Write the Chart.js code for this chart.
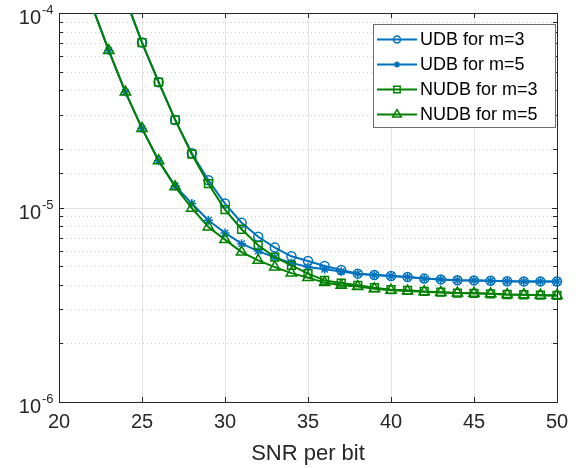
<!DOCTYPE html>
<html>
<head>
<meta charset="utf-8">
<script src="https://cdn.jsdelivr.net/npm/chart.js@4.4.1/dist/chart.umd.min.js"></script>
<style>
    html, body { margin: 0; padding: 0; background: #fff; }
</style>
</head>
<body>
<canvas id="ber-chart" width="582" height="468"></canvas>
<script>
// SNR per bit (x) for each group of curves
const snrM3 = [24, 25, 26, 27, 28, 29, 30, 31, 32, 33, 34, 35, 36, 37, 38, 39, 40, 41, 42, 43, 44, 45, 46, 47, 48, 49, 50];
const snrM5 = [21, 22, 23, 24, 25, 26, 27, 28, 29, 30, 31, 32, 33, 34, 35, 36, 37, 38, 39, 40, 41, 42, 43, 44, 45, 46, 47, 48, 49, 50];

// Error rates
const berUdbM3 = [1.19e-4, 7.05e-5, 4.41e-5, 2.82e-5, 1.90e-5, 1.38e-5, 1.048e-5, 8.35e-6, 7.07e-6, 6.22e-6,
    5.61e-6, 5.31e-6, 5.00e-6, 4.77e-6, 4.57e-6, 4.50e-6, 4.44e-6, 4.39e-6, 4.31e-6, 4.27e-6,
    4.23e-6, 4.22e-6, 4.20e-6, 4.18e-6, 4.17e-6, 4.17e-6, 4.16e-6];
const berUdbM5 = [1.92e-4, 1.08e-4, 6.41e-5, 3.92e-5, 2.55e-5, 1.74e-5, 1.29e-5, 1.048e-5, 8.60e-6, 7.40e-6,
    6.52e-6, 5.97e-6, 5.54e-6, 5.19e-6, 4.95e-6, 4.81e-6, 4.69e-6, 4.57e-6, 4.50e-6, 4.44e-6,
    4.39e-6, 4.31e-6, 4.27e-6, 4.23e-6, 4.22e-6, 4.20e-6, 4.18e-6, 4.17e-6, 4.17e-6, 4.16e-6];
const berNudbM3 = [1.19e-4, 7.05e-5, 4.41e-5, 2.82e-5, 1.88e-5, 1.326e-5, 9.76e-6, 7.73e-6, 6.39e-6, 5.56e-6,
    5.04e-6, 4.57e-6, 4.22e-6, 4.09e-6, 3.98e-6, 3.87e-6, 3.78e-6, 3.75e-6, 3.70e-6, 3.67e-6,
    3.63e-6, 3.62e-6, 3.60e-6, 3.57e-6, 3.56e-6, 3.54e-6, 3.53e-6];
const berNudbM5 = [1.92e-4, 1.08e-4, 6.41e-5, 3.92e-5, 2.55e-5, 1.74e-5, 1.277e-5, 9.92e-6, 7.94e-6, 6.84e-6,
    5.90e-6, 5.35e-6, 4.94e-6, 4.60e-6, 4.36e-6, 4.11e-6, 3.98e-6, 3.92e-6, 3.82e-6, 3.75e-6,
    3.72e-6, 3.69e-6, 3.66e-6, 3.63e-6, 3.62e-6, 3.60e-6, 3.57e-6, 3.56e-6, 3.54e-6, 3.53e-6];

const seriesLabels = ['UDB for m=3', 'UDB for m=5', 'NUDB for m=3', 'NUDB for m=5'];

// Axis ticks
const xTicks = [20, 25, 30, 35, 40, 45, 50];
const yDecades = [1e-6, 1e-5, 1e-4];
const yDecadeExp = ['-6', '-5', '-4'];

const FONT = '"Liberation Sans", Arial, Helvetica, sans-serif';
const AXIS_COLOR = '#262626';
const BLUE = '#0072BD';
const GREEN = '#008000';

Chart.defaults.font.family = FONT;
Chart.defaults.color = AXIS_COLOR;

function toPoints(xs, ys) {
    return xs.map((x, i) => ({ x: x, y: ys[i] }));
}

function isDecade(v) {
    return yDecades.some(d => Math.abs(v / d - 1) < 1e-6);
}

function hLine(ctx, x1, x2, y) {
    ctx.beginPath();
    ctx.moveTo(x1, y);
    ctx.lineTo(x2, y);
    ctx.stroke();
}

function vLine(ctx, x, y1, y2) {
    ctx.beginPath();
    ctx.moveTo(x, y1);
    ctx.lineTo(x, y2);
    ctx.stroke();
}

// Grid, box, inward ticks and y labels the way MATLAB draws them
const axesPlugin = {
    id: 'matlabAxes',
    beforeDatasetsDraw(chart) {
        const { ctx, chartArea: a, scales: { x, y } } = chart;
        ctx.save();
        ctx.lineWidth = 1;

        // minor dotted grid
        ctx.strokeStyle = '#cfcfcf';
        ctx.setLineDash([1, 3]);
        y.ticks.forEach(t => {
            if (isDecade(t.value)) return;
            const py = Math.round(y.getPixelForValue(t.value)) + 0.5;
            hLine(ctx, a.left, a.right, py);
        });
        ctx.setLineDash([]);

        // major solid grid
        ctx.strokeStyle = '#e3e3e3';
        xTicks.forEach(v => {
            const px = Math.round(x.getPixelForValue(v)) + 0.5;
            vLine(ctx, px, a.top, a.bottom);
        });
        yDecades.forEach(v => {
            const py = Math.round(y.getPixelForValue(v)) + 0.5;
            hLine(ctx, a.left, a.right, py);
        });

        // box
        ctx.strokeStyle = AXIS_COLOR;
        ctx.strokeRect(Math.round(a.left) + 0.5, Math.round(a.top) + 0.5,
            Math.round(a.right - a.left), Math.round(a.bottom - a.top));

        // inward ticks
        xTicks.forEach(v => {
            const px = Math.round(x.getPixelForValue(v)) + 0.5;
            vLine(ctx, px, a.bottom, a.bottom - 5);
            vLine(ctx, px, a.top, a.top + 5);
        });
        y.ticks.forEach(t => {
            const py = Math.round(y.getPixelForValue(t.value)) + 0.5;
            const len = isDecade(t.value) ? 5 : 4;
            hLine(ctx, a.left, a.left + len, py);
            hLine(ctx, a.right, a.right - len, py);
        });

        // y labels: 10 with a superscript exponent
        ctx.fillStyle = AXIS_COLOR;
        ctx.textBaseline = 'alphabetic';
        yDecades.forEach((v, i) => {
            const py = y.getPixelForValue(v);
            ctx.font = '20px ' + FONT;
            ctx.textAlign = 'right';
            ctx.fillText('10', a.left - 18, py + 11);
            ctx.font = '13px ' + FONT;
            ctx.textAlign = 'left';
            ctx.fillText(yDecadeExp[i], a.left - 17, py + 1);
        });
        ctx.restore();
    },
    afterDraw(chart) {
        // legend box in the upper right corner
        const { ctx } = chart;
        const box = { left: 373.5, top: 24.5, right: 555.5, bottom: 127.5 };
        ctx.save();
        ctx.fillStyle = '#ffffff';
        ctx.fillRect(box.left, box.top, box.right - box.left, box.bottom - box.top);
        ctx.strokeStyle = '#6e6e6e';
        ctx.lineWidth = 1;
        ctx.strokeRect(box.left, box.top, box.right - box.left, box.bottom - box.top);

        const legendRadius = [3.5, 3, 4.5, 5];
        chart.data.datasets.forEach((ds, i) => {
            const ry = box.top + 15 + i * 25;
            ctx.strokeStyle = ds.borderColor;
            ctx.lineWidth = 2;
            hLine(ctx, 377, 417, ry);
            ctx.fillStyle = 'rgba(0,0,0,0)';
            ctx.lineWidth = 1.5;
            Chart.helpers.drawPoint(ctx, {
                pointStyle: ds.pointStyle,
                radius: legendRadius[i],
                borderWidth: 1.5,
                rotation: 0
            }, 397, ry);
            ctx.fillStyle = '#000000';
            ctx.font = '18px ' + FONT;
            ctx.textAlign = 'left';
            ctx.textBaseline = 'middle';
            ctx.fillText(ds.label, 420, ry + 1);
        });
        ctx.restore();
    }
};

function makeDataset(label, xs, ys, color, style, radius, order) {
    return {
        label: label,
        data: toPoints(xs, ys),
        borderColor: color,
        backgroundColor: color,
        borderWidth: 2,
        pointStyle: style,
        pointRadius: radius,
        pointHoverRadius: radius,
        pointBorderWidth: 1.5,
        pointBorderColor: color,
        pointBackgroundColor: 'rgba(0,0,0,0)',
        tension: 0,
        clip: { left: 10, right: 10, top: 0, bottom: 0 },
        order: order
    };
}

const ctx = document.getElementById('ber-chart').getContext('2d');
new Chart(ctx, {
    type: 'line',
    data: {
        datasets: [
            makeDataset(seriesLabels[0], snrM3, berUdbM3, BLUE, 'circle', 4.5, 3),
            makeDataset(seriesLabels[1], snrM5, berUdbM5, BLUE, 'star', 4.5, 2),
            makeDataset(seriesLabels[2], snrM3, berNudbM3, GREEN, 'rect', 5.5, 1),
            makeDataset(seriesLabels[3], snrM5, berNudbM5, GREEN, 'triangle', 6, 0)
        ]
    },
    options: {
        responsive: false,
        animation: false,
        layout: { padding: { top: 13, right: 25, left: 0, bottom: 0 } },
        plugins: {
            legend: { display: false },
            tooltip: { enabled: false }
        },
        scales: {
            x: {
                type: 'linear',
                min: 20,
                max: 50,
                afterBuildTicks: (scale) => {
                    scale.ticks = xTicks.map(v => ({ value: v }));
                },
                afterFit: (scale) => { scale.height = 66; },
                grid: { display: false },
                border: { display: false },
                ticks: {
                    font: { size: 20 },
                    color: AXIS_COLOR,
                    padding: 0,
                    maxRotation: 0
                },
                title: {
                    display: true,
                    text: 'SNR per bit',
                    font: { size: 22 },
                    color: AXIS_COLOR,
                    padding: { top: 0, bottom: 1 }
                }
            },
            y: {
                type: 'logarithmic',
                min: 1e-6,
                max: 1e-4,
                afterFit: (scale) => { scale.width = 59; },
                grid: { display: false },
                border: { display: false },
                ticks: { display: false }
            }
        }
    },
    plugins: [axesPlugin]
});
</script>
</body>
</html>
